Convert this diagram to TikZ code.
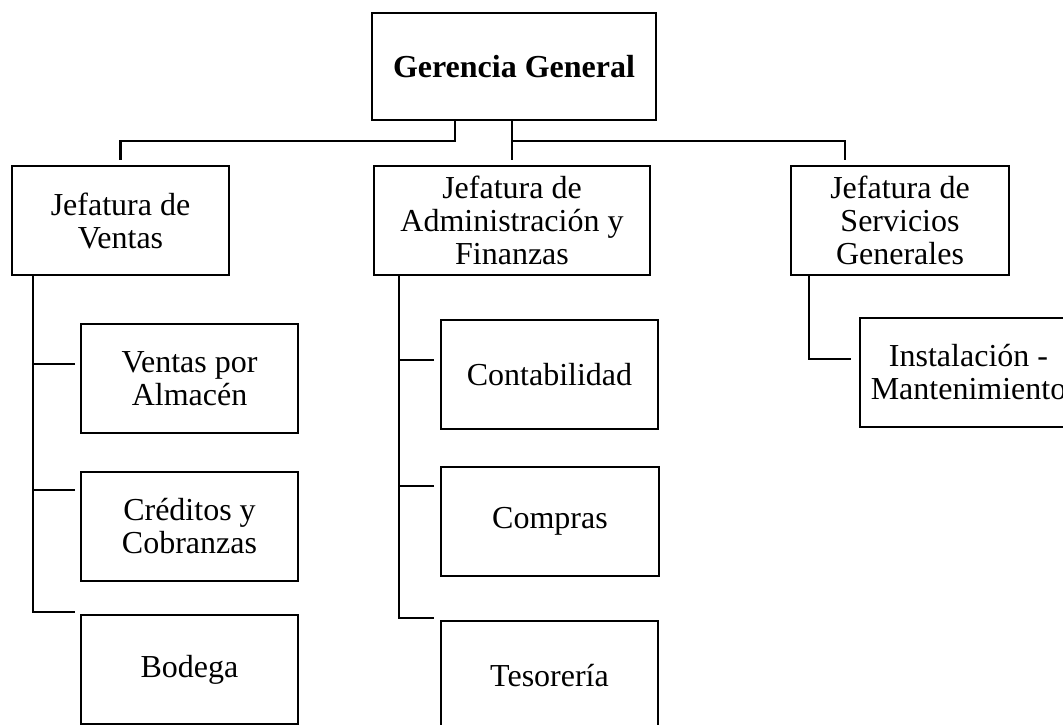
\documentclass[tikz,border=0pt]{standalone}
\usepackage{fontspec}
\setmainfont{Liberation Serif}
\begin{document}
\begin{tikzpicture}[x=1pt, y=-1pt, boxstyle/.style={draw, black, line width=2.2pt, anchor=north west, align=center, outer sep=0pt, inner sep=0pt, minimum height=109pt, minimum width=217pt, text centered, font=\fontsize{32}{33}\selectfont}, linkstyle/.style={black, line width=2.2pt}]
  \useasboundingbox (0,0) rectangle (1063,725);
  \clip (0,0) rectangle (1063,725);

  \node [boxstyle, minimum width=284pt, minimum height=107pt] (GG) at (372,13) {\textbf{Gerencia General}};
  \coordinate (bus) at (0,141);

  \node [boxstyle] (JV) at (12,166) {Jefatura de\\Ventas};
  \node [boxstyle, minimum width=276pt] (JA) at (374,166) {Jefatura de\\Administración y\\Finanzas};
  \node [boxstyle, minimum width=218pt] (JS) at (791,166) {Jefatura de\\Servicios\\Generales};

  \draw [linkstyle, shorten >=6pt] ([xshift=-59pt]GG.south) |- (JV.north |- bus) -- (JV.north);
  \draw [linkstyle, shorten >=6pt] (JA.north |- GG.south) -- (JA.north);
  \draw [linkstyle, shorten >=6pt] (JA.north |- bus) -| ([xshift=-55pt]JS.north);

  \begin{scope}
    \node [boxstyle] (VPA) at (81,324) {Ventas por\\Almacén};
    \node [boxstyle] (CYC) at (81,472) {Créditos y\\Cobranzas};
    \node [boxstyle] (BOD) at (81,615) {Bodega};
    \draw [linkstyle] ([xshift=21pt]JV.south west) |- ([shift={(-6,-3)}]BOD.north west);
    \draw [linkstyle] ([shift={(-6,-14.5)}]VPA.west) -- ++(-42,0);
    \draw [linkstyle] ([shift={(-6,-36.5)}]CYC.west) -- ++(-42,0);
  \end{scope}

  \begin{scope}
    \node [boxstyle] (CON) at (441,320) {Contabilidad};
    \node [boxstyle, minimum width=218pt] (COM) at (441,467) {Compras};
    \node [boxstyle] (TES) at (441,621) {Tesorería};
    \draw [linkstyle] ([xshift=25pt]JA.south west) |- ([shift={(-7,-3)}]TES.north west);
    \draw [linkstyle] ([shift={(-7,-14.5)}]CON.west) -- ++(-35,0);
    \draw [linkstyle] ([shift={(-7,-35.5)}]COM.west) -- ++(-35,0);
  \end{scope}

  \begin{scope}
    \node [boxstyle] (INS) at (860,318) {Instalación -\\Mantenimiento};
    \draw [linkstyle] ([xshift=18pt]JS.south west) |- ([shift={(-9,-13.5)}]INS.west);
  \end{scope}
\end{tikzpicture}
\end{document}
